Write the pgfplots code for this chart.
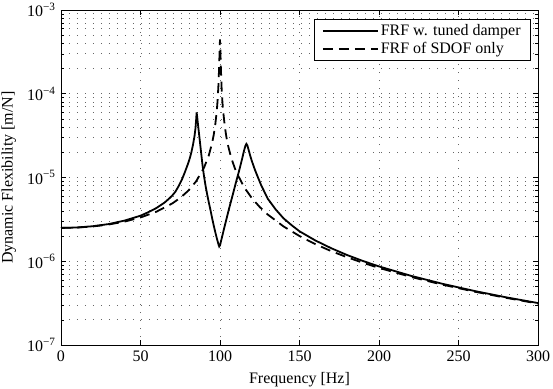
\documentclass[border=0pt]{standalone}
\usepackage{fontspec}
\setmainfont{Liberation Serif}
\usepackage{pgfplots}
\pgfplotsset{compat=1.18}
\begin{document}
\fontsize{16bp}{19bp}\selectfont
\begin{tikzpicture}
\path[use as bounding box] (-61bp,-44bp) rectangle (492bp,345bp);
\begin{axis}[
  at={(0,0)}, anchor=south west,
  scale only axis, width=477bp, height=335bp,
  xmin=0, xmax=300, ymode=log, ymin=1e-7, ymax=1e-3,
  xtick={0,50,100,150,200,250,300},
  /pgf/number format/assume math mode=true,
  ytick={1e-7,1e-6,1e-5,1e-4,1e-3},
  yticklabels={10\textsuperscript{−7},10\textsuperscript{−6},10\textsuperscript{−5},10\textsuperscript{−4},10\textsuperscript{−3}},
  minor ytick={2e-7,3e-7,4e-7,5e-7,6e-7,7e-7,8e-7,9e-7,2e-6,3e-6,4e-6,5e-6,6e-6,7e-6,8e-6,9e-6,2e-5,3e-5,4e-5,5e-5,6e-5,7e-5,8e-5,9e-5,2e-4,3e-4,4e-4,5e-4,6e-4,7e-4,8e-4,9e-4},
  xmajorgrids=true, ymajorgrids=true, yminorgrids=true,
  major grid style={black!60, line width=0.75bp, dash pattern=on 0.8bp off 7.2bp},
  minor grid style={black!60, line width=0.75bp, dash pattern=on 0.8bp off 7.2bp},
  tick align=inside, major tick length=5bp, minor tick length=3bp,
  axis line style={line width=0.8bp},
  every tick/.style={black, line width=0.6bp},
  xlabel={Frequency [Hz]}, ylabel={Dynamic Flexibility [m/N]},
  legend style={at={(rel axis cs:1,1)}, anchor=north east, xshift=-7bp, yshift=-9bp,
    draw=black, line width=0.8bp, cells={anchor=west}, inner xsep=8bp, inner ysep=3bp, row sep=0bp},
  legend image code/.code={\draw[#1] (0bp,0bp) -- (55bp,0bp);},
]
\addplot[black, line width=1.8bp] coordinates {
(0,2.50e-6) (10,2.53e-6) (20,2.62e-6) (30,2.78e-6) (40,3.06e-6) (50,3.50e-6) (55,3.86e-6)
(60,4.32e-6) (65,5.0e-6) (68,5.6e-6) (70,6.1e-6) (72,6.8e-6) (74,7.9e-6) (76,9.4e-6)
(78,1.17e-5) (80,1.48e-5) (81,1.70e-5) (82,2.0e-5) (83,2.45e-5) (84,3.15e-5) (84.6,3.9e-5)
(85.0,4.9e-5) (85.3,6.0e-5) (85.6,5.4e-5) (86,4.57e-5) (87,3.09e-5) (88,2.09e-5) (89,1.41e-5)
(90,1.02e-5) (91,7.8e-6) (92,6.2e-6) (93,5.0e-6) (94,4.1e-6) (95,3.3e-6) (96,2.7e-6)
(97,2.24e-6) (98,1.88e-6) (99,1.60e-6) (99.5,1.50e-6) (100,1.55e-6) (101,1.85e-6)
(102,2.22e-6) (104,3.16e-6) (106,4.47e-6) (108,6.2e-6) (110,8.7e-6) (112,1.2e-5)
(114,1.7e-5) (115,2.05e-5) (116,2.4e-5) (116.6,2.52e-5) (117.2,2.42e-5) (118,2.14e-5)
(119,1.82e-5) (120,1.58e-5) (122,1.23e-5) (124,9.9e-6) (126,8.0e-6) (128,6.7e-6)
(130,5.6e-6) (135,4.16e-6) (140,3.25e-6) (145,2.70e-6) (150,2.28e-6) (160,1.77e-6)
(170,1.43e-6) (180,1.185e-6) (190,1.006e-6) (200,8.68e-7) (220,6.71e-7) (240,5.375e-7)
(260,4.42e-7) (280,3.71e-7) (300,3.17e-7)
};
\addlegendentry{FRF w. tuned damper}
\addplot[black, line width=1.8bp, dash pattern=on 10bp off 6bp] coordinates {
(0,2.5e-6) (10,2.525e-6) (20,2.604e-6) (30,2.747e-6) (40,2.976e-6) (50,3.333e-6)
(60,3.906e-6) (70,4.902e-6) (75,5.714e-6) (80,6.944e-6) (85,9.009e-6) (90,1.316e-5)
(93,1.850e-5) (95,2.564e-5) (96,3.19e-5) (97,4.23e-5) (98,6.31e-5) (98.5,8.4e-5)
(99,1.25e-4) (99.5,2.19e-4) (99.8,3.6e-4) (100,4.46e-4) (100.2,3.6e-4) (100.5,2.18e-4)
(101,1.19e-4) (101.5,8.1e-5) (102,6.19e-5) (103,4.1e-5) (104,3.06e-5) (105,2.44e-5)
(107,1.725e-5) (110,1.19e-5) (115,7.75e-6) (120,5.68e-6) (125,4.44e-6) (130,3.62e-6)
(140,2.60e-6) (150,2.0e-6) (160,1.60e-6) (170,1.32e-6) (180,1.116e-6) (190,9.58e-7)
(200,8.33e-7) (220,6.51e-7) (240,5.25e-7) (260,4.34e-7) (280,3.655e-7) (300,3.125e-7)
};
\addlegendentry{FRF of SDOF only}
\end{axis}
\end{tikzpicture}
\end{document}
